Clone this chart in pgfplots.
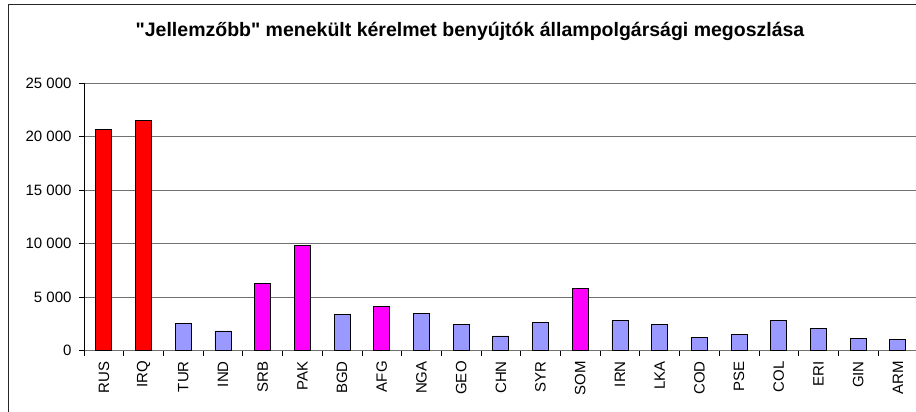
\documentclass[border=0pt]{standalone}
\usepackage{fontspec}
\setmainfont{Liberation Sans}
\newfontfamily\plainfont{Liberation Sans}
\usepackage{pgfplots}
\pgfplotsset{compat=1.18}
\definecolor{peri}{HTML}{9999FF}
\definecolor{mag}{HTML}{FF00FF}
\definecolor{rd}{HTML}{FF0000}
\definecolor{gridc}{HTML}{707070}
\begin{document}
\begin{tikzpicture}[x=1pt,y=1pt]
\useasboundingbox (0,0) rectangle (916,412);
\begin{axis}[
  at={(84pt,61.2pt)}, anchor=south west, scale only axis,
  width=833.7pt, height=267.8pt,
  xmin=-0.5, xmax=20.5, ymin=0, ymax=25000,
  scaled y ticks=false,
  axis x line*=bottom, axis y line*=left,
  x axis line style={draw=gridc, line width=0.9pt, -},
  y axis line style={draw=black, line width=0.9pt, -},
  ytick={0,5000,10000,15000,20000,25000},
  yticklabels={0,5 000,10 000,15 000,20 000,25 000},
  ymajorgrids,
  major grid style={draw=gridc, line width=0.9pt},
  tick align=outside,
  major tick length=5pt,
  tick style={draw=black, line width=0.8pt},
  xtick={-0.5,0.5,...,20.5},
  xticklabels={},
  extra x ticks={0,1,...,20},
  extra x tick labels={RUS,IRQ,TUR,IND,SRB,PAK,BGD,AFG,NGA,GEO,CHN,SYR,SOM,IRN,LKA,COD,PSE,COL,ERI,GIN,ARM},
  extra x tick style={major tick length=0pt, tick style={draw=none}},
  x tick label style={yshift=-7pt, rotate=90, anchor=east, font=\fontsize{15}{15}\selectfont},
  y tick label style={xshift=-4pt, font=\fontsize{15}{15}\selectfont},
  ybar, bar width=16pt,
  every axis plot/.append style={bar shift=0pt, draw=black, line width=0.8pt},
]
\addplot[fill=rd] coordinates {(0,20700) (1,21500)};
\addplot[fill=mag] coordinates {(4,6250) (5,9800) (7,4170) (12,5800)};
\addplot[fill=peri] coordinates {(2,2550) (3,1850) (6,3370) (8,3460) (9,2440) (10,1390) (11,2650) (13,2870) (14,2440) (15,1235) (16,1510) (17,2870) (18,2070) (19,1170) (20,1050)};
\end{axis}
\draw[line width=1pt, black!85] (8,-5) -- (8,407.5) -- (930,407.5);
\node[font=\plainfont\bfseries\fontsize{19.5}{19.5}\selectfont] at (470,381) {"Jellemzőbb" menekült kérelmet benyújtók állampolgársági megoszlása};
\end{tikzpicture}
\end{document}
